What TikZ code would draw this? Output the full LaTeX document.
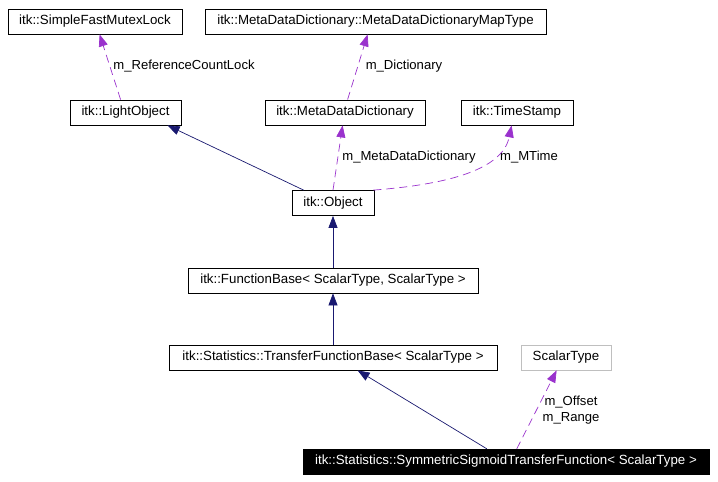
\documentclass[tikz,border=0pt]{standalone}
\usepackage{fontspec}
\setmainfont{Liberation Sans}
\usetikzlibrary{arrows.meta,calc}
\definecolor{inhc}{HTML}{191970}
\definecolor{usec}{HTML}{9A32CD}
\definecolor{grayc}{HTML}{BFBFBF}
\begin{document}
\begin{tikzpicture}[x=1pt,y=-1pt,
  font=\fontsize{13.3}{15}\selectfont,
  cls/.style={draw=black, line width=0.8pt, fill=white, minimum height=25pt, inner sep=0pt, anchor=center},
  grayb/.style={draw=grayc, line width=0.8pt, fill=white, minimum height=25pt, inner sep=0pt, anchor=center},
  mainb/.style={draw=black, fill=black, text=white, minimum height=25pt, inner sep=0pt, anchor=center},
  inh/.style={draw=inhc, line width=0.7pt, -{Triangle[length=12pt,width=9pt]}},
  usel/.style={draw=usec, line width=0.7pt, dash pattern=on 8pt off 5pt, -{Triangle[length=12pt,width=9pt]}},
  lbl/.style={inner sep=0pt, align=center, font=\fontsize{13.1}{15.5}\selectfont}]
\useasboundingbox (0,0) rectangle (718,482);
\fill[white] (0,0) rectangle (718,482);

\node[cls, minimum width=174pt] (sfml) at (95,21.5) {itk::SimpleFastMutexLock};
\node[cls, minimum width=341pt] (mapt) at (375.5,21.5) {itk::MetaDataDictionary::MetaDataDictionaryMapType};
\node[cls, minimum width=111pt] (light) at (125.5,112.5) {itk::LightObject};
\node[cls, minimum width=160pt] (mdd) at (345,112.5) {itk::MetaDataDictionary};
\node[cls, minimum width=112pt] (ts) at (517,112.5) {itk::TimeStamp};
\node[cls, minimum width=82pt] (obj) at (333,203) {itk::Object};
\node[cls, minimum width=290pt] (fb) at (333,280.5) {itk::FunctionBase< ScalarType, ScalarType >};
\node[cls, minimum width=328pt] (tfb) at (333,357.5) {itk::Statistics::TransferFunctionBase< ScalarType >};
\node[grayb, minimum width=90pt] (st) at (566,357.5) {ScalarType};
\node[mainb, minimum width=406pt] (sym) at (506,461.5) {itk::Statistics::SymmetricSigmoidTransferFunction< ScalarType >};

% inheritance
\draw[inh] ($(obj.north west)+(12,0)$) -- ($(light.south west)+(98,0)$);
\draw[inh] (fb.north) -- (obj.south);
\draw[inh] (tfb.north) -- (fb.south);
\draw[inh] ($(sym.north west)+(184,0)$) -- ($(tfb.south west)+(189,0)$);

% usage
\draw[usel] ($(light.north west)+(51,0)$) -- ($(sfml.south west)+(92,0)$);
\node[lbl, anchor=center] (l1) at (184,66) {m\_ReferenceCountLock};
\draw[usel] ($(mdd.north west)+(83,0)$) -- ($(mapt.south west)+(163,0)$);
\node[lbl, anchor=center] (l2) at (404,66) {m\_Dictionary};
\draw[usel] (obj.north) -- ($(mdd.south west)+(78,0)$);
\node[lbl, anchor=center] (l3) at (409,157) {m\_MetaDataDictionary};
\draw[usel] ($(obj.north east)+(-1,0)$) .. controls (440,185) and (502,172) .. ($(ts.south west)+(51,0)$);
\node[lbl, anchor=center] (l4) at (529,157) {m\_MTime};
\draw[usel] ($(sym.north west)+(214,0)$) -- ($(st.south west)+(36,0)$);
\node[lbl, anchor=center] (l5) at (571,410) {m\_Offset\\m\_Range};
\end{tikzpicture}
\end{document}
